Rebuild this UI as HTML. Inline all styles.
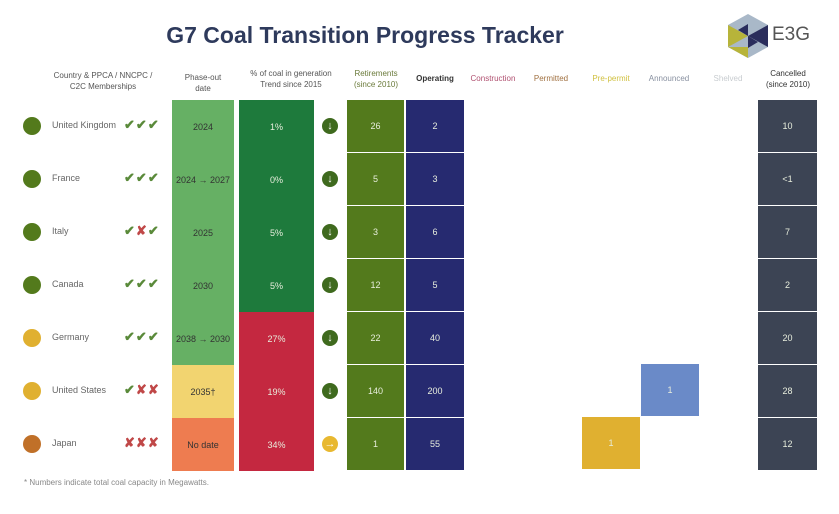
<!DOCTYPE html>
<html><head><meta charset="utf-8"><style>
body{margin:0;width:839px;height:514px;background:#fff;font-family:"Liberation Sans",sans-serif;position:relative;overflow:hidden}
.a{position:absolute}
.c{position:absolute;display:flex;align-items:center;justify-content:center;font-size:9px;color:#e8eedd}
.h{position:absolute;font-size:8px;text-align:center;line-height:11px}
.dot{position:absolute;width:18px;height:18px;border-radius:50%}
.nm{position:absolute;font-size:9px;color:#666}
.ck{position:absolute;font-size:13px;letter-spacing:1px;font-weight:bold}
.ar{position:absolute;width:16px;height:16px;border-radius:50%;background:#3f6a1e;color:#fff;font-size:11px;font-weight:bold;display:flex;align-items:center;justify-content:center}
</style></head><body>
<div class="a" style="left:150px;top:22px;width:430px;text-align:center;font-size:23px;font-weight:bold;color:#2e3a5c">G7 Coal Transition Progress Tracker</div>
<svg class="a" style="left:728px;top:14px" width="40" height="44" viewBox="0 0 40 44"><polygon points="20,0 40,11 40,33 20,44 0,33 0,11" fill="#a9b8c8"/><polygon points="0,11 20,22 0,33" fill="#b7b43a"/><polygon points="20,22 40,11 40,33" fill="#2a2d5c"/><polygon points="10,16 20,22 20,10" fill="#2a2d5c"/><polygon points="20,22 30,28 20,34" fill="#2a2d5c"/><polygon points="0,33 20,44 20,33" fill="#b7b43a"/></svg>
<div class="a" style="left:772px;top:24px;font-size:19px;color:#555">E3G</div>

<div class="h" style="left:48px;top:70px;width:110px;color:#555">Country &amp; PPCA / NNCPC /<br>C2C Memberships</div>
<div class="h" style="left:172px;top:72px;width:62px;color:#555">Phase-out<br>date</div>
<div class="h" style="left:236px;top:68px;width:110px;color:#555">% of coal in generation<br>Trend since 2015</div>
<div class="h" style="left:345px;top:68px;width:62px;color:#6a7a3a">Retirements<br>(since 2010)</div>
<div class="h" style="left:406px;top:73px;width:58px;color:#333;font-weight:bold">Operating</div>
<div class="h" style="left:463px;top:73px;width:60px;color:#b05070">Construction</div>
<div class="h" style="left:522px;top:73px;width:58px;color:#a07040">Permitted</div>
<div class="h" style="left:582px;top:73px;width:58px;color:#d0c040">Pre-permit</div>
<div class="h" style="left:640px;top:73px;width:58px;color:#8890a0">Announced</div>
<div class="h" style="left:699px;top:73px;width:58px;color:#c8ccd0">Shelved</div>
<div class="h" style="left:758px;top:68px;width:60px;color:#333">Cancelled<br>(since 2010)</div>

<div id="rows"></div>
<div class="a" style="left:24px;top:478px;font-size:8px;color:#888">* Numbers indicate total coal capacity in Megawatts.</div>
<script>
var R=[["United Kingdom","#537a1c","✔✔✔","2024","#66b064","1%","#1e7a3c","26","2","10"],
["France","#537a1c","✔✔✔","2024 → 2027","#66b064","0%","#1e7a3c","5","3","<1"],
["Italy","#537a1c","✔✘✔","2025","#66b064","5%","#1e7a3c","3","6","7"],
["Canada","#537a1c","✔✔✔","2030","#66b064","5%","#1e7a3c","12","5","2"],
["Germany","#e0b030","✔✔✔","2038 → 2030","#66b064","27%","#c42840","22","40","20"],
["United States","#e0b030","✔✘✘","2035†","#f2d470","19%","#c42840","140","200","28"],
["Japan","#c07028","✘✘✘","No date","#ee7c50","34%","#c42840","1","55","12"]];
var h="";
R.forEach(function(r,i){var t=100+i*53,c=t+26;
h+='<div class="dot" style="left:23px;top:'+(c-9)+'px;background:'+r[1]+'"></div>';
h+='<div class="nm" style="left:52px;top:'+(c-6)+'px">'+r[0]+'</div>';
var ck='';for(var k=0;k<3;k++){var g=r[2][k];ck+='<span style="color:'+(g=="✔"?"#5a8a3a":"#c04848")+'">'+g+'</span>';}
h+='<div class="ck" style="left:124px;top:'+(c-9)+'px">'+ck+'</div>';
h+='<div class="c" style="left:172px;top:'+t+'px;width:62px;height:53px;background:'+r[4]+';color:#333">'+r[3]+'</div>';
h+='<div class="c" style="left:239px;top:'+t+'px;width:75px;height:53px;background:'+r[6]+'">'+r[5]+'</div>';
h+='<div class="ar" style="left:322px;top:'+(c-8)+'px;'+(i==6?'background:#e8b830':'')+'">'+(i==6?'→':'↓')+'</div>';
h+='<div class="c" style="left:347px;top:'+t+'px;width:57px;height:52px;background:#537a1c">'+r[7]+'</div>';
h+='<div class="c" style="left:406px;top:'+t+'px;width:58px;height:52px;background:#262a70">'+r[8]+'</div>';
h+='<div class="c" style="left:758px;top:'+t+'px;width:59px;height:52px;background:#3c4454">'+r[9]+'</div>';
});
h+='<div class="c" style="left:641px;top:364px;width:58px;height:52px;background:#6a8ac8">1</div>';
h+='<div class="c" style="left:582px;top:417px;width:58px;height:52px;background:#e0b030">1</div>';
document.getElementById("rows").innerHTML=h;
</script>
</body></html>
